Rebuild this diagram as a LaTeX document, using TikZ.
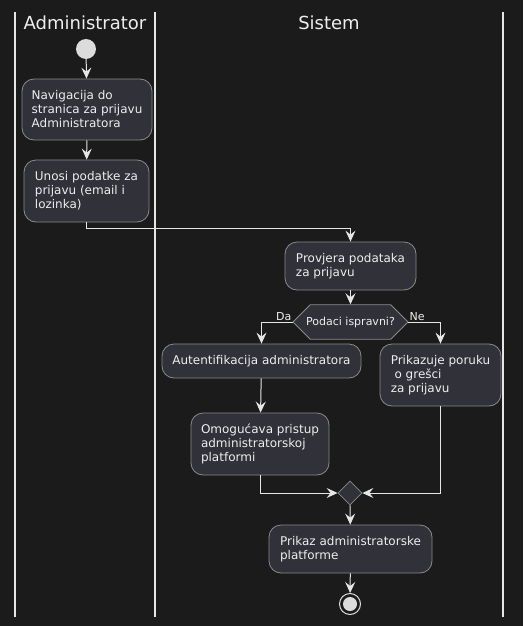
\documentclass[tikz,border=0pt]{standalone}
\usepackage{fontspec}
\setmainfont{DejaVu Sans}
\usetikzlibrary{arrows.meta,shapes.geometric,shapes.misc}
\definecolor{bg}{HTML}{1B1B1B}
\definecolor{boxfill}{HTML}{303139}
\definecolor{boxline}{HTML}{8A8A8A}
\definecolor{ink}{HTML}{EEEEEE}
\definecolor{wire}{HTML}{E6E6E6}
\definecolor{dot}{HTML}{DCDCDC}
\tikzset{
  act/.style={draw=boxline, fill=boxfill, rounded corners=12pt, line width=0.8pt,
    text=ink, align=left, inner sep=0pt, font=\fontsize{12}{14}\selectfont},
  choice/.style={draw=boxline, fill=boxfill, chamfered rectangle,
    chamfered rectangle xsep=10pt, chamfered rectangle ysep=12pt,
    minimum width=115pt, minimum height=24pt, inner sep=0pt, line width=0.8pt,
    text=ink, font=\fontsize{11}{13}\selectfont},
  merge/.style={draw=boxline, fill=boxfill, diamond, minimum width=24pt,
    minimum height=24pt, inner sep=0pt, line width=0.8pt},
  flow/.style={draw=wire, line width=1pt,
    -{Stealth[length=11pt,width=10pt,inset=4pt]}},
  lane/.style={draw=wire, line width=1.5pt},
  lanetitle/.style={text=ink, font=\fontsize{18}{20}\selectfont},
  lbl/.style={text=ink, font=\fontsize{11}{13}\selectfont, inner sep=1pt},
}
\begin{document}
\begin{tikzpicture}[x=1pt,y=-1pt]
  \fill[bg] (0,0) rectangle (523,626);
  \useasboundingbox (0,0) rectangle (523,626);

  % swimlane borders and titles
  \draw[lane] (15,12) -- (15,617);
  \draw[lane] (155,12) -- (155,617);
  \draw[lane] (503,12) -- (503,617);
  \node[lanetitle] (t1) at (85,23) {Administrator};
  \node[lanetitle] (t2) at (329,23) {Sistem};

  % start / end
  \node[circle, fill=dot, minimum size=20pt, inner sep=0pt] (start) at (86,49) {};
  \node[circle, draw=dot, line width=1pt, fill=bg, minimum size=21pt, inner sep=0pt] (stop) at (350,604) {};
  \fill[dot] (stop.center) circle (7pt);

  % activities
  \node[act, minimum width=130pt, minimum height=61pt] (nav) at (87,109.5)
    {Navigacija do\\stranica za prijavu\\Administratora};
  \node[act, minimum width=125pt, minimum height=62pt] (unos) at (86.5,191)
    {Unosi podatke za\\prijavu (email i\\lozinka)};
  \node[act, minimum width=131pt, minimum height=48pt] (prov) at (350.5,266)
    {Provjera podataka\\za prijavu};
  \node[choice] (dec) at (350.5,322) {Podaci ispravni?};
  \node[act, minimum width=199pt, minimum height=34pt] (auth) at (261.5,361)
    {Autentifikacija administratora};
  \node[act, minimum width=121pt, minimum height=62pt] (err) at (440.5,375)
    {Prikazuje poruku\\~o grešci\\za prijavu};
  \node[act, minimum width=138pt, minimum height=62pt] (omog) at (260,444)
    {Omogućava pristup\\administratorskoj\\platformi};
  \node[merge] (join) at (350,493) {};
  \node[act, minimum width=163pt, minimum height=48pt] (prikaz) at (350.5,549)
    {Prikaz administratorske\\platforme};

  % branch labels
  \node[lbl, anchor=south east] (da) at (dec.west) {Da};
  \node[lbl, anchor=south west] (ne) at (dec.east) {Ne};

  % control flow
  \draw[flow] (start) -- (nav);
  \draw[flow] (nav) -- (unos);
  \draw[flow] (unos.south) -- ++(0,6) -| (prov.north);
  \draw[flow] (prov) -- (dec);
  \draw[flow] (dec.west) -| (auth.north);
  \draw[flow] (dec.east) -| (err.north);
  \draw[flow] (auth) -- (omog);
  \draw[flow] (omog.south) |- (join.west);
  \draw[flow] (err.south) |- (join.east);
  \draw[flow] (join) -- (prikaz);
  \draw[flow] (prikaz) -- (stop);
\end{tikzpicture}
\end{document}
